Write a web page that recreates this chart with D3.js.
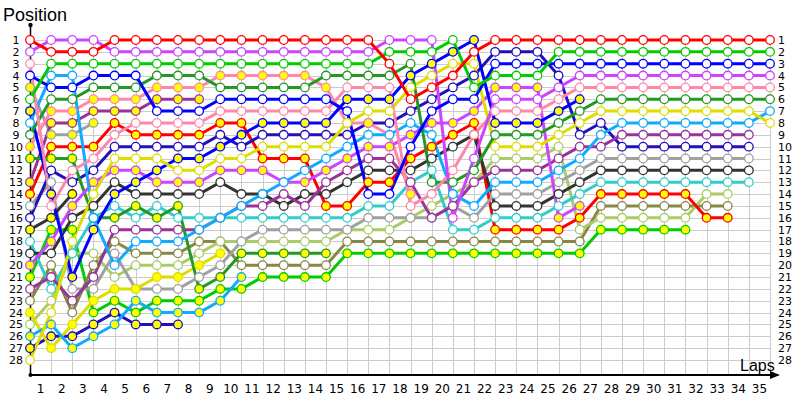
<!DOCTYPE html>
<html><head><meta charset="utf-8">
<script src="https://cdn.jsdelivr.net/npm/d3@7"></script>
<style>body{margin:0;background:#fff}svg{display:block}</style>
</head><body>
<svg id="c" width="800" height="400"></svg>
<script>
const laps = d3.range(0, 36);
const lapLabels = d3.range(1, 36).map(String);
const positions = d3.range(1, 29);
const N = null;
// drivers: positions per lap 0..35
const Ro = [1,2,2,2,1,1,1,1,1,1,1,1,1,1,1,1,1,3,6,5,4,2,1,1,1,1,1,1,1,1,1,1,1,1,1,1];
const Vo = [2,1,1,1,2,2,2,2,2,2,2,2,2,2,2,2,2,1,1,1,16,11,6,6,6,5,4,4,4,4,4,4,4,4,4,4];
const Go = [6,3,3,3,3,3,3,3,3,3,3,3,3,3,3,3,3,2,2,2,1,5,4,4,4,2,2,2,2,2,2,2,2,2,2,2];
const Bo = [4,5,5,4,4,4,7,7,7,6,6,6,6,6,6,7,14,14,10,7,6,6,3,3,3,3,3,3,3,3,3,3,3,3,3,3];
const Bf = [7,14,21,17,14,13,12,11,11,10,9,8,8,8,8,6,6,6,4,3,2,1,8,8,8,7,6,N,N,N,N,N,N,N,N,N];
const Po = [3,15,12,11,9,8,8,8,8,7,7,7,7,7,7,5,5,5,15,14,12,9,7,7,7,6,5,5,5,5,5,5,5,5,5,5];
const Pf = [10,7,7,6,6,6,5,5,5,4,4,4,4,4,5,8,8,9,14,N,N,N,N,N,N,N,N,N,N,N,N,N,N,N,N,N];
const DGo = [9,6,6,5,5,5,4,4,4,5,5,5,5,5,4,4,4,4,3,13,13,12,9,9,9,8,7,6,6,6,6,6,6,6,6,6];
const DGf = [11,11,11,16,16,15,16,15,22,21,19,19,19,19,19,N,N,N,N,N,N,N,N,N,N,N,N,N,N,N,N,N,N,N,N,N];
const LBo = [8,4,4,16,20,18,18,18,17,16,15,14,13,12,11,10,9,9,8,9,14,15,13,13,13,12,11,9,8,8,8,8,8,8,8,7];
const LBf = [26,25,27,26,25,23,24,24,24,23,21,N,N,N,N,N,N,N,N,N,N,N,N,N,N,N,N,N,N,N,N,N,N,N,N,N];
const Yo = [28,24,18,14,11,11,11,12,12,11,11,10,10,10,10,8,7,7,5,4,3,3,10,10,10,9,8,7,7,7,7,7,7,7,7,8];
const Yf = [24,27,25,23,22,22,21,21,20,19,N,N,N,N,N,N,N,N,N,N,N,N,N,N,N,N,N,N,N,N,N,N,N,N,N,N];
const Uo = [22,21,23,21,17,17,17,17,17,16,15,15,14,15,13,12,11,11,13,16,15,13,12,12,12,11,10,10,9,9,9,9,9,9,9,N];
const Uf = [13,8,8,7,7,7,6,6,6,N,N,N,N,N,N,N,N,N,N,N,N,N,N,N,N,N,N,N,N,N,N,N,N,N,N,N];
const Io = [16,12,13,12,10,10,10,10,10,9,10,9,9,9,9,9,8,8,7,6,5,4,2,2,2,4,9,8,10,10,10,10,10,10,10,N];
const If = [27,26,26,25,24,25,25,25,N,N,N,N,N,N,N,N,N,N,N,N,N,N,N,N,N,N,N,N,N,N,N,N,N,N,N,N];
const Ao = [15,13,22,22,19,22,22,22,21,20,18,17,17,17,17,17,16,16,16,16,15,16,14,14,14,13,12,11,11,11,11,11,11,11,11,N];
const Af = [5,9,9,8,N,N,N,N,N,N,N,N,N,N,N,N,N,N,N,N,N,N,N,N,N,N,N,N,N,N,N,N,N,N,N,N];
const Ko = [19,19,16,15,13,14,14,14,14,13,14,14,15,14,14,13,12,12,12,11,10,9,15,15,15,14,13,12,12,12,12,12,12,12,12,N];
const Kf = [17,16,14,N,N,N,N,N,N,N,N,N,N,N,N,N,N,N,N,N,N,N,N,N,N,N,N,N,N,N,N,N,N,N,N,N];
const To = [18,22,19,16,15,16,15,16,16,16,16,16,16,16,16,16,15,15,13,12,17,17,16,16,16,15,14,13,13,13,13,13,13,13,13,N];
const Lo = [25,23,19,19,21,20,20,20,19,18,18,18,18,18,18,17,17,17,16,15,14,13,11,11,11,10,17,16,16,16,16,16,14,14,N,N];
const Oo = [23,20,24,20,18,19,19,19,18,18,20,20,20,20,20,18,18,18,18,18,18,18,18,18,18,18,18,15,15,15,15,15,15,15,N,N];
const Rf = [14,10,10,10,8,9,9,9,9,8,8,11,11,11,15,15,13,13,11,10,9,8,17,17,17,17,16,14,14,14,14,14,16,16,N,N];
const Gf = [21,17,17,24,23,24,23,23,23,22,22,21,21,21,21,19,19,19,19,19,19,19,19,19,19,19,19,17,17,17,17,17,N,N,N,N];
const Vf = [20,18,15,13,12,12,13,13,13,12,12,12,13,13,12,11,10,10,9,8,8,7,5,5,5,16,15,N,N,N,N,N,N,N,N,N];

const C = {red:"#ff0000",violet:"#cc44ff",green:"#00cc00",blue:"#0000ff",pink:"#ff88aa",dkgreen:"#229922",
  ltblue:"#11aaff",yellow:"#dddd00",purple:"#993399",indigo:"#2211bb",gray:"#a0a0a0",black:"#333333",
  teal:"#33cccc",ltgreen:"#aacc66",olive:"#888844"};
const drivers = [
  {d:Gf,c:C.green,f:1},{d:Oo,c:C.olive,f:0},{d:Lo,c:C.ltgreen,f:0},{d:Rf,c:C.red,f:1},
  {d:To,c:C.teal,f:0},{d:Ko,c:C.black,f:0},{d:Ao,c:C.gray,f:0},{d:Io,c:C.indigo,f:0},{d:Uo,c:C.purple,f:0},
  {d:If,c:C.indigo,f:1},{d:Yf,c:C.yellow,f:1},{d:LBf,c:C.ltblue,f:1},{d:Kf,c:C.black,f:1},{d:Af,c:C.gray,f:1},
  {d:Uf,c:C.purple,f:1},{d:DGf,c:C.dkgreen,f:1},{d:Pf,c:C.pink,f:1},{d:Vf,c:C.violet,f:1},{d:Bf,c:C.blue,f:1},
  {d:LBo,c:C.ltblue,f:0},{d:Yo,c:C.yellow,f:0},{d:DGo,c:C.dkgreen,f:0},{d:Po,c:C.pink,f:0},
  {d:Vo,c:C.violet,f:0},{d:Bo,c:C.blue,f:0},{d:Go,c:C.green,f:0},{d:Ro,c:C.red,f:0}
];

const svg = d3.select("#c");
const x = d3.scaleLinear().domain([0,35]).range([30,770]);
const y = d3.scaleLinear().domain([1,28]).range([40,360]);

// grid
const g = svg.append("g").attr("stroke","#cccccc").attr("stroke-width",1).attr("shape-rendering","crispEdges");
g.selectAll("line.h").data(positions).join("line").attr("x1",x(0)).attr("x2",x(35))
  .attr("y1",d=>Math.round(y(d))+0.5).attr("y2",d=>Math.round(y(d))+0.5);
g.selectAll("line.v").data(laps.slice(1)).join("line").attr("y1",y(1)).attr("y2",375)
  .attr("x1",d=>Math.round(x(d))+0.5).attr("x2",d=>Math.round(x(d))+0.5);

// axes
svg.append("line").attr("x1",30).attr("x2",772).attr("y1",375).attr("y2",375).attr("stroke","#000").attr("stroke-width",2);
svg.append("path").attr("d","M770,371 L780,375 L770,379 Z").attr("fill","#000");
svg.append("line").attr("x1",30.5).attr("x2",30.5).attr("y1",25).attr("y2",375).attr("stroke","#000").attr("stroke-width",1.5);
svg.append("circle").attr("cx",30.5).attr("cy",25).attr("r",2.2).attr("fill","#000");
svg.append("circle").attr("cx",30.5).attr("cy",375).attr("r",2).attr("fill","#000");

const font = "DejaVu Sans, Verdana, sans-serif";
svg.append("g").selectAll("text").data(positions).join("text")
  .attr("x",16).attr("y",d=>y(d)+4).attr("text-anchor","middle").attr("font-family",font).attr("font-size",11).attr("fill","#000").text(d=>d);
svg.append("g").selectAll("text").data(positions).join("text")
  .attr("x",778).attr("y",d=>y(d)+4).attr("text-anchor","start").attr("font-family",font).attr("font-size",11).attr("fill","#000").text(d=>d);
svg.append("g").selectAll("text").data(lapLabels).join("text")
  .attr("x",(d,i)=>(x(i)+x(i+1))/2).attr("y",393).attr("text-anchor","middle").attr("font-family",font).attr("font-size",12).attr("fill","#000").text(d=>d);
svg.append("text").attr("x",3).attr("y",21).attr("font-family","Liberation Sans, Arial, sans-serif").attr("font-size",18).text("Position");
svg.append("text").attr("x",740).attr("y",371).attr("font-family","Liberation Sans, Arial, sans-serif").attr("font-size",16).text("Laps");

const line = d3.line().defined(d=>d.p!=null).x(d=>x(d.l)).y(d=>y(d.p));
drivers.forEach(dr=>{
  const pts = dr.d.map((p,l)=>({l,p}));
  svg.append("path").datum(pts).attr("d",line).attr("fill","none").attr("stroke",dr.c).attr("stroke-width",3).attr("stroke-linejoin","round");
});
drivers.forEach(dr=>{
  const pts = dr.d.map((p,l)=>({l,p})).filter(d=>d.p!=null);
  svg.append("g").selectAll("circle").data(pts).join("circle").attr("cx",d=>x(d.l)).attr("cy",d=>y(d.p)).attr("r",4.3)
    .attr("fill",dr.f?"#ffff00":"#fff").attr("stroke",dr.c).attr("stroke-width",1.3);
});
</script>
</body></html>
